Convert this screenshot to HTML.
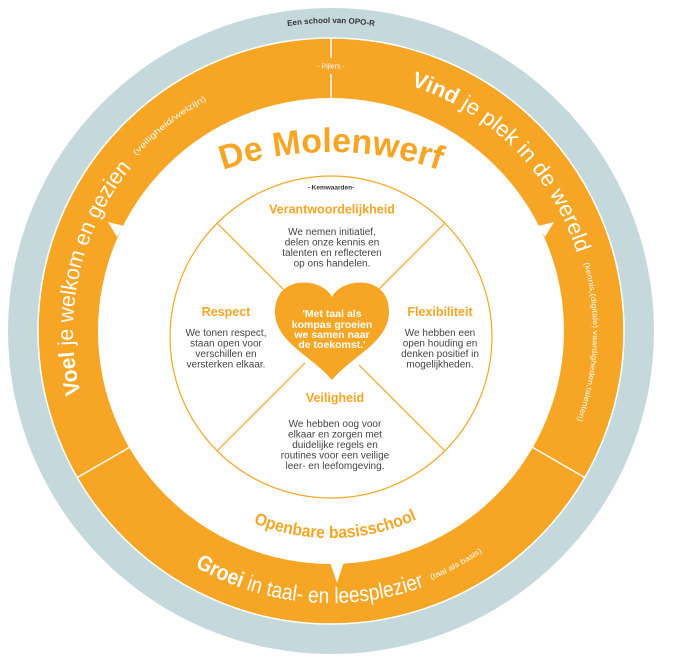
<!DOCTYPE html>
<html><head><meta charset="utf-8"><style>
html,body{margin:0;padding:0;background:#fff;width:681px;height:663px;overflow:hidden;position:fixed;}
svg{display:block;overflow:hidden;}
text{font-family:"Liberation Sans",sans-serif;}
</style></head><body>
<svg width="681" height="663" viewBox="0 0 681 663" xmlns="http://www.w3.org/2000/svg" overflow="hidden">
<defs>
<path id="pVind" d="M410.7,85.6 A258,258 0 0 1 579,259.9"/>
<path id="pKen" d="M584.1,263.1 A262,262 0 0 1 573.9,429.2"/>
<path id="pVoel" d="M80.7,393.4 A258,258 0 0 1 133.4,165.1"/>
<path id="pVei" d="M136.3,155.7 A262,262 0 0 1 224.4,91.6"/>
<path id="pTop" d="M225.7,41.6 A307,307 0 0 1 436.3,41.6"/>
<path id="pGroei" d="M122.6,505.9 A272,272 0 0 0 539.4,505.9"/>
<path id="pTaal" d="M126.2,502.9 A266,266 0 0 0 535.8,502.9"/>
<path id="pOpen" d="M172.4,464.1 A207,207 0 0 0 489.6,464.1"/>
<path id="pLeder" d="M87,593 A316,316 0 0 0 575,593"/>
<path id="pMolen" d="M190,183.3 A333,333 0 0 1 472,183.3"/>
</defs>
<circle cx="331" cy="331" r="323" fill="#C5D9DD"/>
<circle cx="331" cy="331" r="293" fill="#F6A524" stroke="#fff" stroke-width="1.5"/>
<circle cx="331" cy="331" r="233" fill="#fff"/>
<polygon points="108,222 124,226 117,237" fill="#fff"/>
<polygon points="554,222 538,226 545,237" fill="#fff"/>
<polygon points="330,562 344,562 337,583" fill="#fff"/>
<line x1="331" y1="38" x2="331" y2="58" stroke="#fff" stroke-width="1.5"/>
<line x1="331" y1="74" x2="331" y2="98" stroke="#fff" stroke-width="1.5"/>
<line x1="532.8" y1="447.5" x2="584.7" y2="477.5" stroke="#fff" stroke-width="1.5"/>
<line x1="129.2" y1="447.5" x2="77.3" y2="477.5" stroke="#fff" stroke-width="1.5"/>
<text x="331" y="68.5" font-size="7" fill="#fff" text-anchor="middle">- Pijlers -</text>

<text font-size="8" font-weight="bold" fill="#333"><textPath href="#pTop" startOffset="50%" text-anchor="middle">Een school van OPO-R</textPath></text>
<text font-size="8" font-weight="bold" fill="#333"><textPath href="#pLeder" startOffset="50%" text-anchor="middle">'Ieder kind gelijke kansen'</textPath></text>

<text font-size="22" fill="#fff"><textPath href="#pVind" textLength="245" lengthAdjust="spacingAndGlyphs"><tspan font-weight="bold">Vind</tspan> je plek in de wereld</textPath></text>
<text font-size="7.5" fill="#fff"><textPath href="#pKen" textLength="160" lengthAdjust="spacingAndGlyphs">(kennis,(digitale) vaardigheden,talenten)</textPath></text>
<text font-size="22" fill="#fff"><textPath href="#pVoel" textLength="240" lengthAdjust="spacingAndGlyphs"><tspan font-weight="bold">Voel</tspan> je welkom en gezien</textPath></text>
<text font-size="8" fill="#fff"><textPath href="#pVei" textLength="90" lengthAdjust="spacingAndGlyphs">(veiligheid/welzijn)</textPath></text>
<text font-size="22" fill="#fff"><textPath href="#pGroei" startOffset="20%" textLength="238" lengthAdjust="spacingAndGlyphs"><tspan font-weight="bold">Groei</tspan> in taal- en leesplezier</textPath></text>
<text font-size="7.5" fill="#fff"><textPath href="#pTaal" startOffset="72%" textLength="58" lengthAdjust="spacingAndGlyphs">(taal als basis)</textPath></text>

<text font-size="17" font-weight="bold" fill="#F6A524"><textPath href="#pOpen" startOffset="28%" textLength="168" lengthAdjust="spacingAndGlyphs">Openbare basisschool</textPath></text>
<text font-size="34" font-weight="bold" fill="#F6A524"><textPath href="#pMolen" startOffset="50%" text-anchor="middle" textLength="220" lengthAdjust="spacingAndGlyphs">De Molenwerf</textPath></text>

<circle cx="331" cy="337" r="161" fill="none" stroke="#F6A524" stroke-width="1.2"/>
<line x1="217" y1="223" x2="290" y2="296" stroke="#F6A524" stroke-width="1.2"/>
<line x1="445" y1="223" x2="374" y2="294" stroke="#F6A524" stroke-width="1.2"/>
<line x1="217" y1="451" x2="305" y2="363" stroke="#F6A524" stroke-width="1.2"/>
<line x1="445" y1="451" x2="359" y2="365" stroke="#F6A524" stroke-width="1.2"/>
<path d="M332,297 C322,277 275,274 275,312 C275,342 312,356 332,380 C352,356 389,342 389,312 C389,274 342,277 332,297 Z" fill="#F6A524"/>
<g font-size="10.5" font-weight="bold" fill="#fff" text-anchor="middle">
<text x="332" y="317">'Met taal als</text>
<text x="332" y="328">kompas groeien</text>
<text x="332" y="338">we samen naar</text>
<text x="332" y="348">de toekomst.'</text>
</g>
<text x="331" y="189.5" font-size="6.5" font-weight="bold" fill="#333" text-anchor="middle">- Kemwaarden-</text>
<g font-size="12.5" font-weight="bold" fill="#F6A524" text-anchor="middle">
<text x="332" y="213.5">Verantwoordelijkheid</text>
<text x="226" y="316">Respect</text>
<text x="440" y="316">Flexibiliteit</text>
<text x="335" y="402">Veiligheid</text>
</g>
<g font-size="10" fill="#444" text-anchor="middle">
<text x="332" y="235">We nemen initiatief,</text>
<text x="332" y="245.5">delen onze kennis en</text>
<text x="332" y="256">talenten en reflecteren</text>
<text x="332" y="266.5">op ons handelen.</text>
<text x="226" y="336">We tonen respect,</text>
<text x="226" y="346.5">staan open voor</text>
<text x="226" y="357">verschillen en</text>
<text x="226" y="367.5">versterken elkaar.</text>
<text x="440" y="336">We hebben een</text>
<text x="440" y="346.5">open houding en</text>
<text x="440" y="357">denken positief in</text>
<text x="440" y="367.5">mogelijkheden.</text>
<text x="335" y="427">We hebben oog voor</text>
<text x="335" y="437.5">elkaar en zorgen met</text>
<text x="335" y="448">duidelijke regels en</text>
<text x="335" y="458.5">routines voor een veilige</text>
<text x="335" y="469">leer- en leefomgeving.</text>
</g>
</svg>
</body></html>
